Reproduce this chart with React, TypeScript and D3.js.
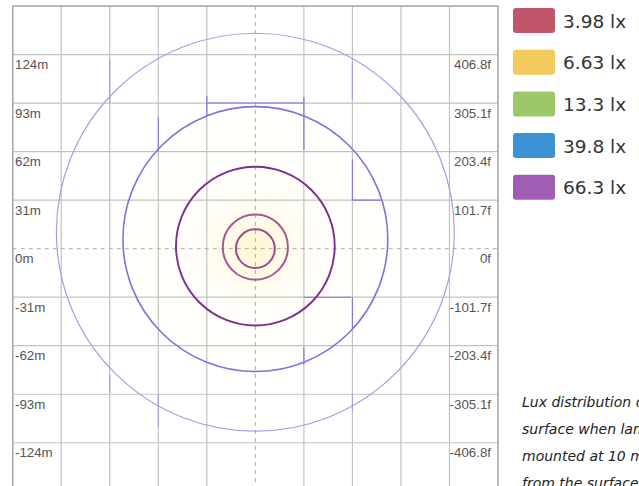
import React from "react";
import * as d3 from "d3";

const W = 639;
const H = 486;

// Grid ticks (meters), every 31 m
const gridTicks = [-155, -124, -93, -62, -31, 0, 31, 62, 93, 124, 155];
const meterLabels = ["124m", "93m", "62m", "31m", "0m", "-31m", "-62m", "-93m", "-124m"];
const meterValues = [124, 93, 62, 31, 0, -31, -62, -93, -124];
const feetLabels = ["406.8f", "305.1f", "203.4f", "101.7f", "0f", "-101.7f", "-203.4f", "-305.1f", "-406.8f"];

// Iso-lux contours: radius (m) and vertical centre offset (m)
const contourRadius = [127.1, 84.6, 50.7, 20.8, 12.4];
const contourOffset = [10.5, 6.1, 1.6, 1.0, 0];
const contourColors = ["#a39de8", "#7d72de", "#7b2f8c", "#a9578f", "#9a4c8a"];
const contourWidths = [1.2, 1.6, 1.9, 2.0, 2.0];

// Contour tracing artefacts along grid lines: [contour, x1, y1, x2, y2] in metres
const artefacts = [
  [0, -93, 120.7, -93, 93],
  [0, 62, 119.4, 62, 95],
  [0, -93, -80.5, -93, -92],
  [0, -62, -93, -62, -114],
  [0, 62, -93, 62, -104],
  [1, -62, 84, -62, 62],
  [1, -31, 97.7, -31, 84.3],
  [1, -31, 93, 31, 93],
  [1, 31, 97, 31, 63],
  [1, 62, 57, 62, 31],
  [1, 62, 31, 80, 31],
  [1, 31, -31, 61, -31],
  [1, 62, -31, 62, -52],
  [1, 31, -63, 31, -74],
];

// Legend
const legendLabels = ["3.98 lx", "6.63 lx", "13.3 lx", "39.8 lx", "66.3 lx"];
const legendColors = ["#c1566b", "#f2c95d", "#9cc86a", "#3b93d6", "#a15db6"];

const noteLines = [
  "Lux distribution on the",
  "surface when lamp is",
  "mounted at 10 m height",
  "from the surface",
];

export default function App() {
  const x = d3.scaleLinear().domain([-155, 155]).range([12.7, 498]);
  const y = d3.scaleLinear().domain([155, -155]).range([6, 491.3]);
  const k = x(1) - x(0);

  return (
    <svg
      width={W}
      height={H}
      style={{ position: "absolute", left: 0, top: 0, background: "#fff" }}
      fontFamily="'Liberation Sans', Arial, sans-serif"
    >
      <defs>
        <radialGradient id="glow" cx="50%" cy="50%" r="50%">
          <stop offset="0%" stopColor="#fff5cc" stopOpacity={1} />
          <stop offset="40%" stopColor="#fffae4" stopOpacity={0.85} />
          <stop offset="100%" stopColor="#fffdf4" stopOpacity={0} />
        </radialGradient>
        <clipPath id="plot">
          <rect x={x(-155)} y={y(155)} width={x(155) - x(-155)} height={y(-155) - y(155)} />
        </clipPath>
      </defs>
      <rect width={W} height={H} fill="#fff" />
      <g clipPath="url(#plot)">
        <circle cx={x(0)} cy={y(contourOffset[1])} r={contourRadius[1] * k} fill="#fffffc" />
        <circle cx={x(0)} cy={y(contourOffset[2])} r={contourRadius[2] * k} fill="#fffef8" />
        <circle cx={x(0)} cy={y(0)} r={42 * k} fill="url(#glow)" />
        {/* grid */}
        {gridTicks.map((t) =>
          t === 0 ? null : (
            <g key={"g" + t}>
              <line x1={x(t)} x2={x(t)} y1={y(155)} y2={y(-155)} stroke="#c2c2c2" strokeWidth={1.2} />
              <line x1={x(-155)} x2={x(155)} y1={y(t)} y2={y(t)} stroke="#c2c2c2" strokeWidth={1.2} />
            </g>
          )
        )}
        <line x1={x(0)} x2={x(0)} y1={y(155)} y2={y(-155)} stroke="#b0a8b8" strokeWidth={1} strokeDasharray="4,4" />
        <line x1={x(-155)} x2={x(155)} y1={y(0)} y2={y(0)} stroke="#b0a8b8" strokeWidth={1} strokeDasharray="4,4" />
        {/* artefacts */}
        {artefacts.map((a, i) => (
          <line
            key={"a" + i}
            x1={x(a[1])}
            y1={y(a[2])}
            x2={x(a[3])}
            y2={y(a[4])}
            stroke={contourColors[a[0]]}
            strokeWidth={1.1}
          />
        ))}
        {/* contours */}
        {contourRadius.map((r, i) => (
          <circle
            key={"c" + i}
            cx={x(0)}
            cy={y(contourOffset[i])}
            r={r * k}
            fill="none"
            stroke={contourColors[i]}
            strokeWidth={contourWidths[i]}
          />
        ))}
      </g>
      <rect
        x={x(-155)}
        y={y(155)}
        width={x(155) - x(-155)}
        height={y(-155) - y(155)}
        fill="none"
        stroke="#a8a8a8"
        strokeWidth={1.5}
      />
      {/* axis labels */}
      {meterValues.map((v, i) => (
        <g key={"l" + i}>
          <text x={15} y={y(v) + 14.5} fontSize={13.3} fill="#555">
            {meterLabels[i]}
          </text>
          <text x={491} y={y(v) + 14.5} fontSize={13.3} fill="#555" textAnchor="end">
            {feetLabels[i]}
          </text>
        </g>
      ))}
      {/* legend */}
      {legendLabels.map((l, i) => (
        <g key={"lg" + i} transform={`translate(513, ${8 + i * 41.7})`}>
          <rect width={42} height={25} rx={3} fill={legendColors[i]} />
          <text x={50} y={19.5} fontSize={18.5} fill="#333" fontFamily="'DejaVu Sans', sans-serif">
            {l}
          </text>
        </g>
      ))}
      {/* note */}
      {noteLines.map((t, i) => (
        <text
          key={"n" + i}
          x={522}
          y={407 + i * 27}
          fontSize={14}
          fontStyle="italic"
          fill="#222"
          fontFamily="'DejaVu Sans', sans-serif"
        >
          {t}
        </text>
      ))}
    </svg>
  );
}
